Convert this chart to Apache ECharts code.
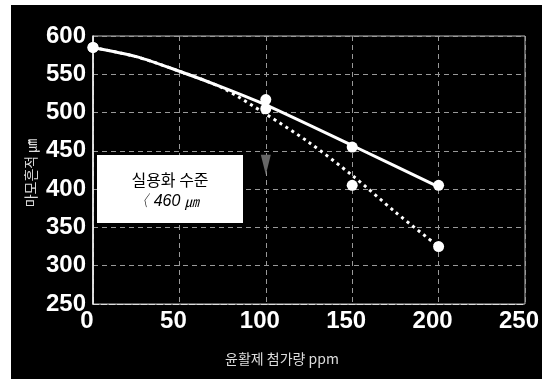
<!DOCTYPE html>
<html><head><meta charset="utf-8">
<script src="https://cdn.jsdelivr.net/npm/echarts@6/dist/echarts.min.js"></script>
<style>html,body{margin:0;padding:0;background:#fff}#c{width:553px;height:379px}</style>
</head><body><div id="c"></div>
<script>
// Additive amount (ppm)
const xMarkers = [0, 100, 150, 200];
// Measured wear-scar values (markers)
const solidMarkers = [585, 517, 455, 405];
const dottedMarkers = [585, 505, 405, 325];
// Trend curves
const solidTrendX = [0, 25, 50, 75, 100, 150, 200];
const solidTrendY = [585, 573, 554, 533, 510, 457, 403];
const dottedTrendX = [0, 25, 50, 75, 100, 125, 150, 175, 200];
const dottedTrendY = [585, 573, 554, 532, 498, 461, 418, 370, 325];
const yTicks = [250, 300, 350, 400, 450, 500, 550, 600];
const xTicks = [0, 50, 100, 150, 200, 250];
const boxLine1 = '실용화 수준';
const boxLine2a = '〈 460 ';
const boxLine2b = '㎛';
const xTitle = '윤활제 첨가량 ppm';
const yTitle = '마모흔적 ㎛';

const pair = (xs, ys) => xs.map((x, i) => [x, ys[i]]);
const chart = echarts.init(document.getElementById('c'));
chart.setOption({
  backgroundColor: '#000',
  animation: false,
  grid: { left: 93, right: 28, top: 36, bottom: 75, show: true, borderColor: '#bbb', borderWidth: 1 },
  xAxis: {
    type: 'value', min: xTicks[0], max: xTicks[xTicks.length - 1], interval: 50,
    axisLine: { show: true, lineStyle: { color: '#ddd', width: 1, type: [6, 2] } },
    axisTick: { show: false },
    splitLine: { show: true, lineStyle: { color: '#999', width: 1, type: [5, 4] } },
    axisLabel: { color: '#fff', fontFamily: 'Liberation Sans', fontWeight: 'bold', fontSize: 24, margin: 5, padding: [0, 12, 0, 0] }
  },
  yAxis: {
    type: 'value', min: yTicks[0], max: yTicks[yTicks.length - 1], interval: 50,
    axisLine: { show: true, lineStyle: { color: '#fff', width: 1.5 } },
    axisTick: { show: false },
    splitLine: { show: true, lineStyle: { color: '#999', width: 1, type: [5, 4] } },
    axisLabel: { color: '#fff', fontFamily: 'Liberation Sans', fontWeight: 'bold', fontSize: 24, margin: 7, padding: [0, 0, 6, 0] }
  },
  series: [
    { type: 'line', data: pair(solidTrendX, solidTrendY), smooth: 0.3, showSymbol: false,
      lineStyle: { color: '#fff', width: 3 }, z: 3 },
    { type: 'line', data: pair(dottedTrendX, dottedTrendY), smooth: 0.3, showSymbol: false,
      lineStyle: { color: '#fff', width: 3, type: [3, 4] }, z: 3 },
    { type: 'scatter', data: pair(xMarkers, solidMarkers), symbolSize: 11,
      itemStyle: { color: '#fff', opacity: 1 }, z: 4 },
    { type: 'scatter', data: pair(xMarkers, dottedMarkers), symbolSize: 11,
      itemStyle: { color: '#fff', opacity: 1 }, z: 4,
      markPoint: { symbol: 'triangle', symbolRotate: 180, symbolSize: [10, 20],
        itemStyle: { color: '#666' }, label: { show: false },
        data: [{ coord: [100, 432] }] } }
  ],
  graphic: [
    { type: 'rect', shape: { x: 0, y: 0, width: 11, height: 379 }, style: { fill: '#fff' }, z: 200, silent: true },
    { type: 'rect', shape: { x: 0, y: 0, width: 553, height: 5 }, style: { fill: '#fff' }, z: 200, silent: true },
    { type: 'rect', shape: { x: 542, y: 0, width: 11, height: 379 }, style: { fill: '#fff' }, z: 200, silent: true },
    { type: 'rect', shape: { x: 97, y: 155, width: 146, height: 68 }, style: { fill: '#fff' }, z: 100 },
    { type: 'text', x: 170, y: 180, style: { text: boxLine1, fill: '#000', font: '16px "Noto Sans CJK KR"', textAlign: 'center', textVerticalAlign: 'middle' }, z: 101 },
    { type: 'text', x: 166, y: 202, style: {
        text: '{a|' + boxLine2a + '}{b|' + boxLine2b + '}', fill: '#000', textAlign: 'center', textVerticalAlign: 'middle',
        rich: { a: { fontFamily: 'Liberation Sans', fontSize: 16, fill: '#000', fontStyle: 'italic' },
                b: { fontFamily: 'Noto Sans CJK KR', fontSize: 14, fill: '#000', fontStyle: 'italic' } } }, z: 101 },
    { type: 'text', x: 282, y: 359, style: { text: xTitle, fill: '#ddd', font: '14px "Noto Sans CJK KR"', textAlign: 'center', textVerticalAlign: 'middle' }, z: 101 },
    { type: 'text', x: 31, y: 173, rotation: Math.PI / 2, style: { text: yTitle, fill: '#ddd', font: '14px "Noto Sans CJK KR"', textAlign: 'center', textVerticalAlign: 'middle' }, z: 101 }
  ]
});
</script></body></html>
